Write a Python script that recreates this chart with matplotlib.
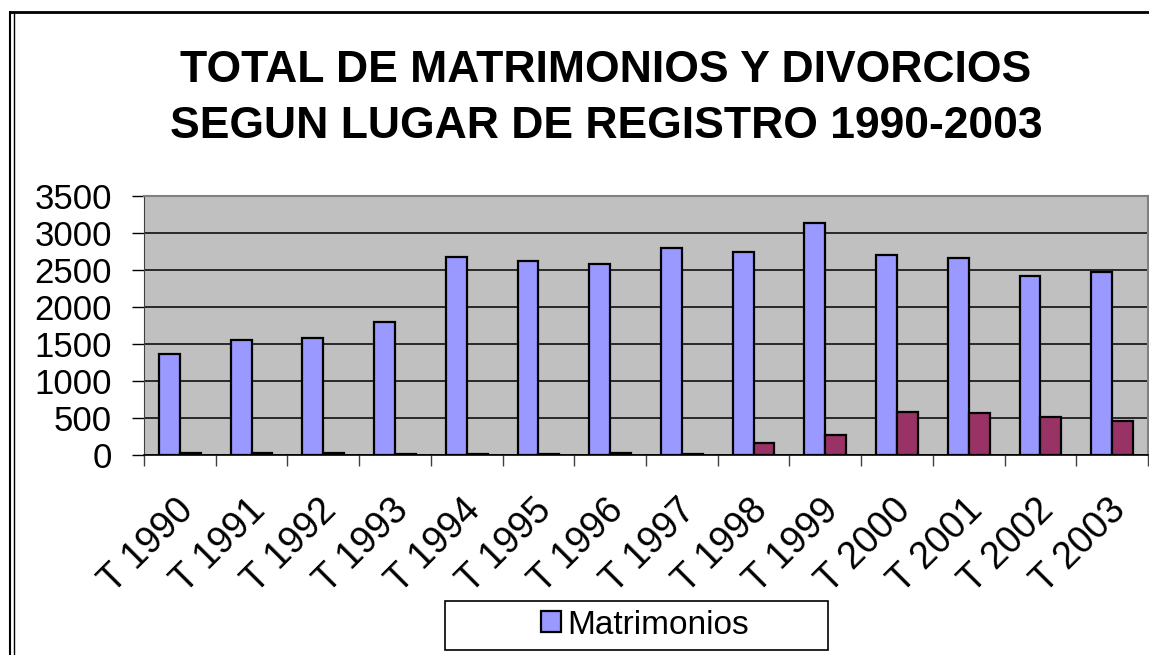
import matplotlib.pyplot as plt
import matplotlib.transforms as mtransforms
from matplotlib.lines import Line2D
from matplotlib.patches import Rectangle, Patch
import numpy as np

plt.rcParams["font.family"] = ["Liberation Sans", "DejaVu Sans"]

years = ["T 1990", "T 1991", "T 1992", "T 1993", "T 1994", "T 1995", "T 1996",
         "T 1997", "T 1998", "T 1999", "T 2000", "T 2001", "T 2002", "T 2003"]
matrimonios = [1360, 1550, 1575, 1800, 2680, 2620, 2580, 2800, 2740, 3130, 2700, 2660, 2420, 2470]
divorcios = [30, 30, 30, 10, 10, 10, 25, 15, 165, 270, 580, 563, 513, 455]
yticks = [0, 500, 1000, 1500, 2000, 2500, 3000, 3500]

W, H = 1149, 655
fig = plt.figure(figsize=(W / 100, H / 100), dpi=100)
fig.patch.set_facecolor("white")

ax = fig.add_axes([144 / W, 1 - 455 / H, (1148 - 144) / W, (455 - 196) / H])
ax.set_facecolor("#C0C0C0")

x = np.arange(len(years))
bw = 0.29
ax.bar(x - bw / 2, matrimonios, bw, color="#9999FF", edgecolor="black", linewidth=1.6, zorder=3)
ax.bar(x + bw / 2, divorcios, bw, color="#993366", edgecolor="black", linewidth=1.6, zorder=3)

ax.set_xlim(-0.5, len(years) - 0.5)
ax.set_ylim(0, 3500)
ax.set_yticks(yticks)
ax.set_yticklabels([str(v) for v in yticks], fontsize=25)
ax.tick_params(axis="y", direction="out", length=9, width=1, color="black", pad=14)
ax.yaxis.grid(True, color="black", linewidth=1.1, zorder=1)
ax.set_axisbelow(True)

# category labels at centres, tick marks on boundaries
ax.set_xticks(x)
ax.set_xticklabels(years, fontsize=27, rotation=45, ha="right", va="center",
                   rotation_mode="anchor")
ax.tick_params(axis="x", which="major", length=0, pad=36)
ax.set_xticks(np.arange(len(years) + 1) - 0.5, minor=True)
ax.tick_params(axis="x", which="minor", direction="out", length=8, width=1, color="#404040")
offset = mtransforms.ScaledTranslation(8 / 100, 0, fig.dpi_scale_trans)
for lab in ax.get_xticklabels():
    lab.set_transform(lab.get_transform() + offset)

for side in ["top", "right"]:
    ax.spines[side].set_color("#808080")
    ax.spines[side].set_linewidth(1.5)
ax.spines["left"].set_color("#404040")
ax.spines["bottom"].set_color("black")
ax.spines["bottom"].set_linewidth(1.2)

# title
fig.text(606 / W, 1 - 82 / H, "TOTAL DE MATRIMONIOS Y DIVORCIOS", ha="center", va="baseline",
         fontsize=32, fontweight="bold")
fig.text(606 / W, 1 - 138 / H, "SEGUN LUGAR DE REGISTRO 1990-2003", ha="center", va="baseline",
         fontsize=32, fontweight="bold")

# legend box (only first series visible)
fig.patches.append(Rectangle((445 / W, 1 - 650 / H), (828 - 445) / W, (650 - 601) / H,
                             transform=fig.transFigure, facecolor="white",
                             edgecolor="black", linewidth=1.2))
fig.legend(handles=[Patch(facecolor="#9999FF", edgecolor="black", linewidth=1.6)],
           labels=["Matrimonios"], loc="center", bbox_to_anchor=(645 / W, 1 - 625 / H),
           frameon=False, fontsize=24, handlelength=0.6, handleheight=0.6, handletextpad=0.2)

# outer chart frame
fig.lines.append(Line2D([10 / W, 10 / W], [0, 1 - 12 / H], transform=fig.transFigure,
                        color="black", linewidth=1.5))
fig.lines.append(Line2D([13.5 / W, 13.5 / W], [0, 1 - 12 / H], transform=fig.transFigure,
                        color="black", linewidth=1.0))
fig.lines.append(Line2D([10 / W, 1], [1 - 12 / H, 1 - 12 / H], transform=fig.transFigure,
                        color="black", linewidth=2))

fig.savefig("out.png", dpi=100)
